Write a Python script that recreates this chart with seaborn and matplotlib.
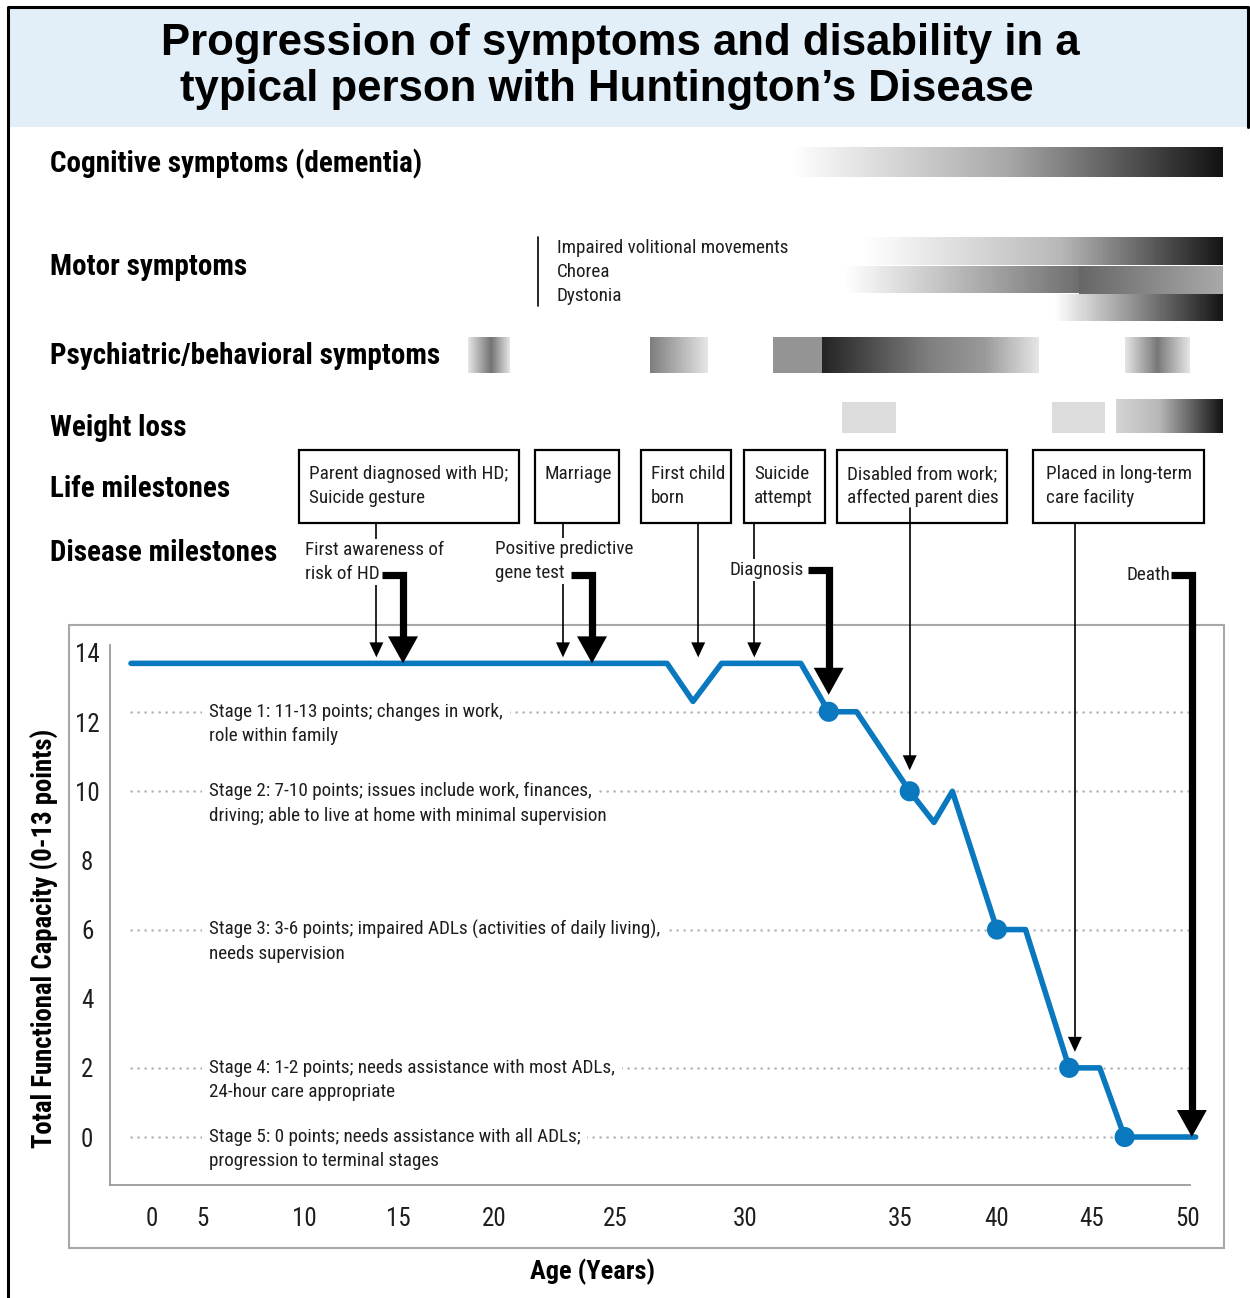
import numpy as np
import matplotlib
matplotlib.use('Agg')
import matplotlib.pyplot as plt
import seaborn as sns
from matplotlib.patches import Rectangle, Polygon

W, H = 1250, 1298

# age axis is drawn with uneven spacing between the ticks
tick_ages = [0, 5, 10, 15, 20, 25, 30, 35, 40, 45, 50]
tick_pos = [152, 202, 304, 398, 494, 615, 745, 900, 997, 1092, 1188]

# total functional capacity curve
line_age = [-2.1, 27.0, 28.0, 29.1, 31.8, 32.7, 33.6, 35.5, 36.75, 37.7, 40.0, 41.5, 43.8, 45.4, 46.7, 50.4]
line_tfc = [13.7, 13.7, 12.6, 13.7, 13.7, 12.3, 12.3, 10.0, 9.1, 10.0, 6.0, 6.0, 2.0, 2.0, 0.0, 0.0]

stage_age = [32.7, 35.5, 40.0, 43.8, 46.7]
stage_tfc = [12.3, 10.0, 6.0, 2.0, 0.0]
stage_line1 = ['Stage 1: 11-13 points; changes in work,',
               'Stage 2: 7-10 points; issues include work, finances,',
               'Stage 3: 3-6 points; impaired ADLs (activities of daily living),',
               'Stage 4: 1-2 points; needs assistance with most ADLs,',
               'Stage 5: 0 points; needs assistance with all ADLs;']
stage_line2 = ['role within family',
               'driving; able to live at home with minimal supervision',
               'needs supervision',
               '24-hour care appropriate',
               'progression to terminal stages']

# symptom bars: (start age, end age, gradient stops (fraction, grey level))
cog_bars = [(31.45, 51.8, [(0, 1.0), (0.5, 0.66), (1, 0.07)])]
motor_bars = [(33.8, 51.8, [(0, 1.0), (0.55, 0.72), (1, 0.08)]),
              (33.2, 44.3, [(0, 1.0), (1, 0.43)]),
              (44.3, 51.8, [(0, 0.4), (1, 0.66)]),
              (43.0, 51.8, [(0, 1.0), (1, 0.08)])]
motor_rows = [(237, 265), (266, 293), (266, 294), (294, 321)]
psych_bars = [(18.65, 20.66, [(0, 0.9), (0.55, 0.45), (1, 0.9)]),
              (26.35, 28.58, [(0, 0.49), (1, 0.9)]),
              (30.9, 32.48, [(0, 0.58), (1, 0.58)]),
              (32.48, 42.2, [(0, 0.14), (0.5, 0.5), (0.75, 0.6), (1, 0.9)]),
              (46.7, 50.1, [(0, 0.9), (0.5, 0.47), (1, 0.9)])]
weight_bars = [(33.13, 34.87, [(0, 0.86), (1, 0.86)]),
               (42.9, 45.7, [(0, 0.86), (1, 0.86)]),
               (46.25, 51.8, [(0, 0.83), (0.4, 0.72), (1, 0.07)])]
weight_rows = [(402, 433), (402, 433), (399, 433)]

motor_names = ['Impaired volitional movements', 'Chorea', 'Dystonia']

life_labels = ['Parent diagnosed with HD;\nSuicide gesture', 'Marriage', 'First child\nborn',
               'Suicide\nattempt', 'Disabled from work;\naffected parent dies',
               'Placed in long-term\ncare facility']
life_box_x = [(299, 519), (535, 619), (641, 731), (744, 825), (837, 1007), (1033, 1204)]
life_age = [13.85, 22.85, 28.2, 30.3, 35.5, 44.1]
life_target = [13.7, 13.7, 13.7, 13.7, 10.0, 2.0]

disease_labels = ['First awareness of\nrisk of HD', 'Positive predictive\ngene test', 'Diagnosis', 'Death']
disease_age = [15.26, 24.05, 32.7, 50.2]
disease_target = [13.7, 13.7, 12.3, 0.0]

row_labels = ['Cognitive symptoms (dementia)', 'Motor symptoms', 'Psychiatric/behavioral symptoms',
              'Weight loss', 'Life milestones', 'Disease milestones']

sns.set_style('white')
narrow = ['Roboto Condensed', 'DejaVu Sans']
plt.rcParams['font.family'] = narrow
FS = 13.8

blue = '#0a78bf'
ink = '#1e1e1e'

ages_k = [-30] + tick_ages + [80]
pos_k = [-148] + tick_pos + [1764]


def fwd(a):
    return np.interp(a, ages_k, pos_k)


def inv(p):
    return np.interp(p, pos_k, ages_k)


fig = plt.figure(figsize=(W / 100, H / 100), dpi=100)
fig.patch.set_facecolor('white')
ax = fig.add_axes([110 / W, (H - 1185) / H, 1080 / W, 540 / H])
ax.set_xscale('function', functions=(fwd, inv))

# stage reference lines
for v in stage_tfc:
    ax.plot([-2.1, 50.1], [v, v], color='#b5b5b5', lw=1.8, ls=(0, (0.1, 2.7)),
            dash_capstyle='round', zorder=1)

sns.lineplot(x=line_age, y=line_tfc, sort=False, estimator=None, color=blue, lw=4,
             solid_capstyle='round', ax=ax, zorder=3, clip_on=False)
sns.scatterplot(x=stage_age, y=stage_tfc, s=210, color=blue, edgecolor='none', ax=ax,
                zorder=4, clip_on=False)

for v, t1, t2 in zip(stage_tfc, stage_line1, stage_line2):
    ax.text(5.34, v, t1, fontsize=FS, va='center', ha='left', color=ink,
            bbox=dict(fc='white', ec='none', pad=5), zorder=2)
    ax.annotate(t2, xy=(5.34, v), xytext=(0, -17.5), textcoords='offset points',
                fontsize=FS, va='center', ha='left', color=ink, zorder=2)

ax.set_xlim(inv(110), inv(1190))
ax.set_ylim(-1.388, 14.231)
ax.set_xticks(tick_ages)
ax.set_xticklabels([str(a) for a in tick_ages])
ax.set_yticks(range(0, 15, 2))
ax.tick_params(axis='both', length=0, labelsize=18, colors=ink)
ax.tick_params(axis='y', pad=16.5)
ax.tick_params(axis='x', pad=15.5)
for lab in ax.get_yticklabels():
    lab.set_horizontalalignment('center')
ax.set_xlabel('')
ax.set_ylabel('')
for s in ['top', 'right']:
    ax.spines[s].set_visible(False)
for s in ['left', 'bottom']:
    ax.spines[s].set_color('#9a9a9a')
    ax.spines[s].set_linewidth(1.3)


def age_px(a):
    a = np.atleast_1d(np.asarray(a, dtype=float))
    return ax.transData.transform(np.column_stack([a, np.zeros_like(a)]))[:, 0]


def tfc_py(v):
    v = np.atleast_1d(np.asarray(v, dtype=float))
    return H - ax.transData.transform(np.column_stack([np.zeros_like(v), v]))[:, 1]


# overlay in pixel units for the top panel
top = fig.add_axes([0, 0, 1, 1])
top.set_xlim(0, W)
top.set_ylim(H, 0)
top.axis('off')
top.set_zorder(3)

# frame, title band
top.add_patch(Rectangle((10, 9), 1238, 118, fc='#e3eff8', ec='none', zorder=0))
top.plot([8, 8, 1248, 1248], [H, 7, 7, 127], color='black', lw=2.2, zorder=1)
top.add_patch(Rectangle((69, 625), 1155, 623, fc='none', ec='#a8a8a8', lw=1.5, zorder=0))
title_font = ['Liberation Sans', 'DejaVu Sans']
top.text(620, 43, 'Progression of symptoms and disability in a', fontsize=31.5, fontweight='bold',
         family=title_font, ha='center', va='center', color='black')
top.text(607, 89, 'typical person with Huntington\u2019s Disease', fontsize=31.5, fontweight='bold',
         family=title_font, ha='center', va='center', color='black')

for lab, y in zip(row_labels, [164, 267, 356, 428, 489, 553]):
    top.text(50, y, lab, fontsize=21, fontweight='bold', ha='left', va='center', color='black')


def grad_bar(a0, a1, y0, y1, stops):
    x0, x1 = age_px([a0, a1])
    n = 160
    xs = np.linspace(x0, x1, n + 1)
    fr = (np.arange(n) + 0.5) / n
    c = np.interp(fr, [s[0] for s in stops], [s[1] for s in stops])[None, :]
    top.pcolormesh(xs, [y0, y1], c, cmap='gray', vmin=0, vmax=1, shading='flat',
                   antialiased=False, edgecolors='none', zorder=1)


for a0, a1, st in cog_bars:
    grad_bar(a0, a1, 147, 177, st)
for (a0, a1, st), (y0, y1) in zip(motor_bars, motor_rows):
    grad_bar(a0, a1, y0, y1, st)
for a0, a1, st in psych_bars:
    grad_bar(a0, a1, 337, 373, st)
for (a0, a1, st), (y0, y1) in zip(weight_bars, weight_rows):
    grad_bar(a0, a1, y0, y1, st)

top.plot([538, 538], [237, 306], color='black', lw=1.2)
for name, y in zip(motor_names, [248, 272, 296]):
    top.text(557, y, name, fontsize=FS, ha='left', va='center', color=ink)

# life milestone boxes
for lab, (bx0, bx1) in zip(life_labels, life_box_x):
    top.add_patch(Rectangle((bx0, 450), bx1 - bx0, 73, fc='none', ec='black', lw=1.6, zorder=2))
    top.text(bx0 + 10 + (3 if bx0 > 1020 else 0), 465, lab, fontsize=FS, ha='left', va='top',
             linespacing=1.4, color=ink, zorder=2)

# thin arrows from life milestones
starts = [523, 523, 523, 523, 508, 523]
gaps = [6, 6, 6, 6, 21, 16]
lx = age_px(life_age)
ly = tfc_py(life_target)
for x, y_t, y0, g in zip(lx, ly, starts, gaps):
    tip = y_t - g
    top.plot([x, x], [y0, tip - 12], color='black', lw=1.2, zorder=2)
    top.add_patch(Polygon([(x - 7, tip - 15), (x + 7, tip - 15), (x, tip)], closed=True,
                          fc='black', ec='none', zorder=2))

# disease milestone texts
top.text(305, 541, disease_labels[0], fontsize=FS, ha='left', va='top', linespacing=1.4,
         color=ink, bbox=dict(fc='white', ec='none', pad=1.5), zorder=3)
top.text(495, 540, disease_labels[1], fontsize=FS, ha='left', va='top', linespacing=1.4,
         color=ink, bbox=dict(fc='white', ec='none', pad=1.5), zorder=3)
top.text(804, 570, disease_labels[2], fontsize=FS, ha='right', va='center',
         color=ink, bbox=dict(fc='white', ec='none', pad=1.5), zorder=3)
top.text(1170, 575, disease_labels[3], fontsize=FS, ha='right', va='center',
         color=ink, zorder=3)

# thick arrows for disease milestones
bar_y = [575, 575, 570, 575]
dx = age_px(disease_age)
dy = tfc_py(disease_target)
gaps_d = [0, 0, 17, 0]
for x, y_t, yb, g in zip(dx, dy, bar_y, gaps_d):
    tip = y_t - g
    top.plot([x - 21, x, x], [yb, yb, tip - 24], color='black', lw=5.2,
             solid_joinstyle='miter', solid_capstyle='butt', zorder=4)
    top.add_patch(Polygon([(x - 15, tip - 27), (x + 15, tip - 27), (x, tip)], closed=True,
                          fc='black', ec='none', zorder=4))

top.text(45, 938, 'Total Functional Capacity (0-13 points)', fontsize=19.3, fontweight='bold',
         rotation=90, ha='center', va='center', color='black')
top.text(593, 1272, 'Age (Years)', fontsize=19, fontweight='bold', ha='center', va='center',
         color='black')

fig.savefig('out.png', dpi=100)
